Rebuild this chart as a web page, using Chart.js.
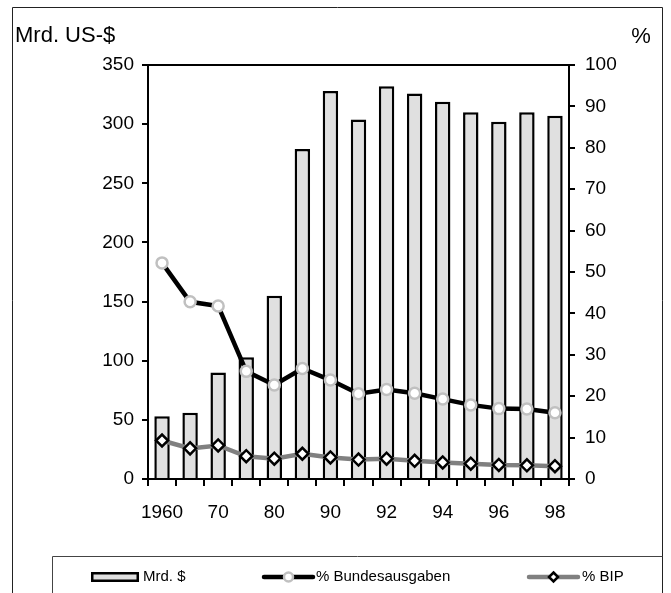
<!DOCTYPE html>
<html>
<head>
<meta charset="utf-8">
<script src="https://cdn.jsdelivr.net/npm/chart.js@4/dist/chart.umd.min.js"></script>
<style>
  html, body { margin: 0; padding: 0; background: #fff; }
  #wrap { width: 671px; height: 593px; position: relative; }
</style>
</head>
<body>
<div id="wrap"><canvas id="c"></canvas></div>
<script>
// Years shown on the category axis
const years = ['1960','1965','1970','1975','1980','1985','1990','1991','1992','1993','1994','1995','1996','1997','1998'];
// Labels printed under every second bar
const xTickLabels = ['1960','','70','','80','','90','','92','','94','','96','','98'];

// Defence spending, billions of US dollars
const mrdDollar = [53, 56, 90, 103, 155, 279, 328, 304, 332, 326, 319, 310, 302, 310, 307];
// Share of federal outlays, percent
const pctBundesausgaben = [52.2, 42.8, 41.8, 26.0, 22.7, 26.7, 23.9, 20.6, 21.6, 20.7, 19.3, 17.9, 17.0, 16.9, 16.0];
// Share of GDP, percent
const pctBIP = [9.3, 7.4, 8.1, 5.5, 4.9, 6.1, 5.2, 4.7, 4.9, 4.4, 4.0, 3.7, 3.4, 3.3, 3.1];

const FONT = '"Liberation Sans", Arial, sans-serif';

const decorations = {
  id: 'decorations',
  afterDraw(chart) {
    const ctx = chart.ctx;
    const a = chart.chartArea;
    ctx.save();

    // closing line along the top of the plot
    ctx.strokeStyle = '#000';
    ctx.lineWidth = 2;
    ctx.beginPath();
    ctx.moveTo(a.left - 1, a.top);
    ctx.lineTo(a.right + 1, a.top);
    ctx.stroke();

    // outer frame
    ctx.strokeStyle = '#222';
    ctx.lineWidth = 1;
    ctx.beginPath();
    ctx.moveTo(12.5, 593);
    ctx.lineTo(12.5, 7.5);
    ctx.lineTo(662.5, 7.5);
    ctx.lineTo(662.5, 593);
    ctx.stroke();

    // legend box
    ctx.strokeStyle = '#444';
    ctx.beginPath();
    ctx.moveTo(52.5, 593);
    ctx.lineTo(52.5, 556.5);
    ctx.lineTo(662.5, 556.5);
    ctx.stroke();

    // axis captions
    ctx.fillStyle = '#000';
    ctx.font = '22px ' + FONT;
    ctx.textBaseline = 'alphabetic';
    ctx.textAlign = 'left';
    ctx.fillText('Mrd. US-$', 15, 42);
    ctx.textAlign = 'center';
    ctx.fillText('%', 641, 43);

    // legend entries, styled from the datasets
    const ds = chart.data.datasets;
    const ly = 577;
    ctx.font = '15px ' + FONT;
    ctx.textBaseline = 'middle';
    ctx.textAlign = 'left';

    // bars
    ctx.fillStyle = ds[0].backgroundColor;
    ctx.fillRect(91, ly - 5, 48, 10);
    ctx.strokeStyle = '#000';
    ctx.lineWidth = 2.5;
    ctx.strokeRect(92.25, ly - 3.75, 45.5, 7.5);
    ctx.fillStyle = '#000';
    ctx.fillText(ds[0].label, 143, ly);

    // line series
    const lineEntry = (d, x0, x1, tx) => {
      const cx = (x0 + x1) / 2, r = 4.5;
      ctx.strokeStyle = d.borderColor;
      ctx.lineWidth = 4.5;
      ctx.lineCap = 'round';
      ctx.beginPath();
      ctx.moveTo(x0, ly);
      ctx.lineTo(x1, ly);
      ctx.stroke();
      ctx.fillStyle = d.pointBackgroundColor;
      ctx.strokeStyle = d.pointBorderColor;
      ctx.lineWidth = d.pointBorderWidth;
      ctx.beginPath();
      if (d.pointStyle === 'rectRot') {
        ctx.moveTo(cx, ly - r); ctx.lineTo(cx + r, ly); ctx.lineTo(cx, ly + r); ctx.lineTo(cx - r, ly); ctx.closePath();
      } else {
        ctx.arc(cx, ly, r, 0, Math.PI * 2);
      }
      ctx.fill();
      ctx.stroke();
      ctx.fillStyle = '#000';
      ctx.fillText(d.label, tx, ly);
    };
    lineEntry(ds[1], 264, 313, 316);
    lineEntry(ds[2], 529, 578, 582);

    ctx.restore();
  }
};

new Chart(document.getElementById('c'), {
  type: 'bar',
  data: {
    labels: years,
    datasets: [
      {
        type: 'bar',
        label: 'Mrd. $',
        data: mrdDollar,
        yAxisID: 'y',
        backgroundColor: '#e0e0e0',
        borderColor: '#000',
        borderWidth: 2.5,
        categoryPercentage: 1,
        barPercentage: 0.55,
        order: 3
      },
      {
        type: 'line',
        label: '% Bundesausgaben',
        data: pctBundesausgaben,
        yAxisID: 'y1',
        borderColor: '#000',
        borderWidth: 4.5,
        tension: 0,
        pointStyle: 'circle',
        pointRadius: 5.5,
        pointBackgroundColor: '#fff',
        pointBorderColor: '#c0c0c0',
        pointBorderWidth: 2.5,
        order: 2
      },
      {
        type: 'line',
        label: '% BIP',
        data: pctBIP,
        yAxisID: 'y1',
        borderColor: '#808080',
        borderWidth: 4.5,
        tension: 0,
        pointStyle: 'rectRot',
        pointRadius: 6,
        pointBackgroundColor: '#fff',
        pointBorderColor: '#000',
        pointBorderWidth: 2.5,
        order: 1
      }
    ]
  },
  options: {
    responsive: true,
    maintainAspectRatio: false,
    animation: false,
    layout: { padding: { top: 65, left: 0, right: 0, bottom: 0 } },
    plugins: { legend: { display: false }, tooltip: { enabled: false } },
    scales: {
      x: {
        grid: { offset: true, drawOnChartArea: false, tickLength: 7, color: '#000', lineWidth: 2 },
        border: { color: '#000', width: 2 },
        ticks: {
          autoSkip: false, maxRotation: 0, minRotation: 0, padding: 15,
          color: '#000', font: { family: FONT, size: 19 },
          callback: (v, i) => xTickLabels[i]
        },
        afterFit: s => { s.height = 114; }
      },
      y: {
        position: 'left', min: 0, max: 350,
        grid: { drawOnChartArea: false, tickLength: 6, color: '#000', lineWidth: 2 },
        border: { color: '#000', width: 2 },
        ticks: { stepSize: 50, padding: 8, color: '#000', font: { family: FONT, size: 19 } },
        afterFit: s => { s.width = 148; }
      },
      y1: {
        position: 'right', min: 0, max: 100,
        grid: { drawOnChartArea: false, tickLength: 6, color: '#000', lineWidth: 2 },
        border: { color: '#000', width: 2 },
        ticks: { stepSize: 10, padding: 10, color: '#000', font: { family: FONT, size: 19 } },
        afterFit: s => { s.width = 102; }
      }
    }
  },
  plugins: [decorations]
});
</script>
</body>
</html>
